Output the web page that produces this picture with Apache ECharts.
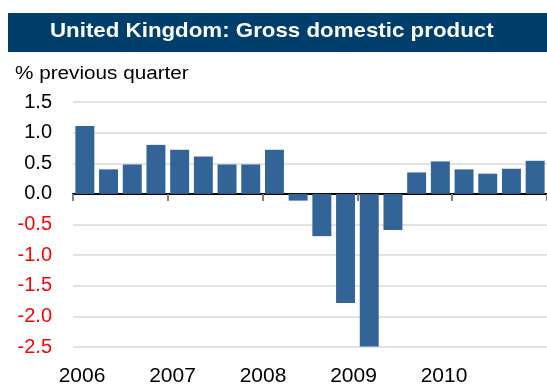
<!DOCTYPE html>
<html><head><meta charset="utf-8">
<script src="https://cdn.jsdelivr.net/npm/echarts@6/dist/echarts.min.js"></script>
<style>html,body{margin:0;padding:0;background:#fff}#c{width:547px;height:387px}</style>
</head><body><div id="c"></div>
<script>
var quarters = ['2006Q1','2006Q2','2006Q3','2006Q4','2007Q1','2007Q2','2007Q3','2007Q4','2008Q1','2008Q2','2008Q3','2008Q4','2009Q1','2009Q2','2009Q3','2009Q4','2010Q1','2010Q2','2010Q3','2010Q4'];
var gdp = [1.11, 0.40, 0.48, 0.80, 0.72, 0.61, 0.48, 0.48, 0.72, -0.11, -0.69, -1.78, -2.49, -0.59, 0.35, 0.53, 0.40, 0.33, 0.41, 0.54];
var years = ['2006','2007','2008','2009','2010'];
var titleText = 'United Kingdom: Gross domestic product';
var subtitleText = '% previous quarter';

var font = 'Liberation Sans, Arial, sans-serif';
var chart = echarts.init(document.getElementById('c'), null, {renderer:'canvas'});
chart.setOption({
  animation: false,
  graphic: [
    {type:'rect', left:8, top:13, shape:{width:539, height:39}, style:{fill:'#003F6B'}},
    {type:'text', x:50, y:21, scaleX:1.062, style:{text:titleText, fill:'#fff', font:'bold 21px ' + font}},
    {type:'text', x:15, y:65, scaleX:1.15, style:{text:subtitleText, fill:'#000', font:'18px ' + font}}
  ],
  grid: [
    {left:73, right:0, top:102, bottom:40},
    {left:82, right:103, top:102, bottom:40}
  ],
  xAxis: [
    {type:'category', gridIndex:0, data:quarters,
     axisLine:{onZero:true, lineStyle:{color:'#000', width:2}},
     axisTick:{show:true, interval:3, length:7, lineStyle:{color:'#808080', width:2}},
     axisLabel:{show:false}},
    {type:'category', gridIndex:1, data:years, boundaryGap:false,
     axisLine:{show:false}, axisTick:{show:false},
     axisLabel:{show:true, interval:0, margin:19, color:'#000', fontSize:21, fontFamily:font}}
  ],
  yAxis: [
    {type:'value', gridIndex:0, min:-2.5, max:1.5, interval:0.5,
     axisLine:{show:false}, axisTick:{show:false},
     splitLine:{lineStyle:{color:'#e3e3e3', width:2}},
     axisLabel:{margin:21, fontSize:20, fontFamily:font,
       formatter:function(v){return v.toFixed(1);},
       color:function(v){return Number(v) < 0 ? '#ff0000' : '#000';}}},
    {type:'value', gridIndex:1, min:-2.5, max:1.5, show:false}
  ],
  series: [
    {type:'bar', xAxisIndex:0, yAxisIndex:0, data:gdp, barCategoryGap:'20%',
     itemStyle:{color:'#336497'}}
  ]
});
</script></body></html>
